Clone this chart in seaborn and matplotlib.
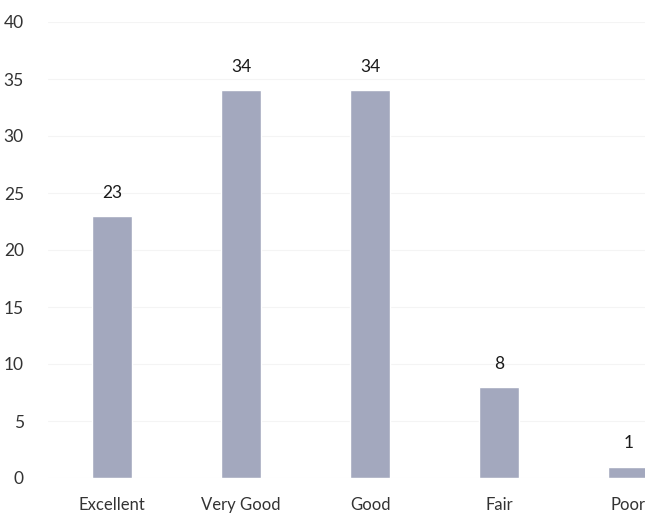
import matplotlib
matplotlib.use('Agg')
import matplotlib.pyplot as plt
import seaborn as sns
import pandas as pd

# Chart data
categories = ['Excellent', 'Very Good', 'Good', 'Fair', 'Poor']
counts = [23, 34, 34, 8, 1]
y_ticks = [0, 5, 10, 15, 20, 25, 30, 35, 40]

sns.set_style('white')
plt.rcParams['font.family'] = ['Lato', 'DejaVu Sans']

df = pd.DataFrame({'rating': categories, 'count': counts})

fig = plt.figure(figsize=(6.45, 5.16), dpi=100)
ax = fig.add_axes([47.5 / 645, 38 / 516, 1 - 47.5 / 645, 456 / 516])

sns.barplot(data=df, x='rating', y='count', color='#a3a8be',
            width=0.31, saturation=1, ax=ax)

ax.bar_label(ax.containers[0], fmt='%d', padding=11, fontsize=12.5, color='#1a1a1a')

ax.set_ylim(0, 40)
ax.set_xlim(-0.5, 4.13)
ax.set_yticks(y_ticks)
ax.set_xlabel('')
ax.set_ylabel('')
ax.yaxis.grid(True, color='#f4f4f4', linewidth=0.8)
ax.set_axisbelow(True)
ax.tick_params(axis='y', length=0, pad=17, labelsize=12.5, labelcolor='#333333')
ax.tick_params(axis='x', length=0, pad=14, labelsize=12, labelcolor='#333333')
sns.despine(left=True, bottom=True)

plt.savefig('out.png', dpi=100)
plt.close()
